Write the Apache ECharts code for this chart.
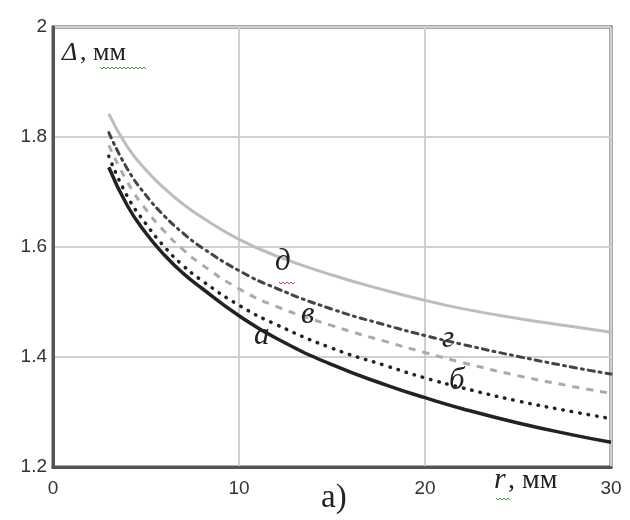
<!DOCTYPE html>
<html><head><meta charset="utf-8">
<script src="https://cdn.jsdelivr.net/npm/echarts@6/dist/echarts.min.js"></script>
<style>html,body{margin:0;padding:0;background:#fff}#c{width:630px;height:520px}</style>
</head><body><div id="c"></div>
<script>
var xs = [3, 4, 5, 6, 7, 8, 10, 12, 15, 18, 20, 22, 25, 28, 30];
var curveA = [1.745, 1.675, 1.625, 1.585, 1.552, 1.525, 1.475, 1.434, 1.386, 1.348, 1.326, 1.306, 1.280, 1.258, 1.245];
var curveB = [1.765, 1.692, 1.642, 1.600, 1.566, 1.539, 1.494, 1.459, 1.416, 1.383, 1.362, 1.344, 1.320, 1.300, 1.288];
var curveV = [1.785, 1.718, 1.668, 1.628, 1.595, 1.568, 1.524, 1.492, 1.457, 1.427, 1.408, 1.390, 1.366, 1.346, 1.334];
var curveG = [1.808, 1.742, 1.694, 1.656, 1.625, 1.599, 1.557, 1.525, 1.487, 1.457, 1.439, 1.423, 1.401, 1.381, 1.369];
var curveD = [1.842, 1.782, 1.740, 1.706, 1.678, 1.654, 1.614, 1.584, 1.549, 1.520, 1.503, 1.488, 1.470, 1.455, 1.445];
var xTicks = [0, 10, 20, 30];
var yTicks = [1.2, 1.4, 1.6, 1.8, 2];
var curveNames = ['а', 'б', 'в', 'г', 'д'];

function pairs(v){ return xs.map(function(x,i){ return [x, v[i]]; }); }
var tickFont = 'Liberation Sans';
var serif = 'Liberation Serif';

var chart = echarts.init(document.getElementById('c'), null, {renderer:'canvas'});
function squiggle(x, y, w, color){
  var pts = []; for (var i=0;i<=w;i+=2){ pts.push([x+i, y + ((i/2)%2===0?0:2)]); }
  return {type:'polyline', shape:{points:pts}, style:{stroke:color, lineWidth:1, fill:null}, z:20};
}
function txt(s, x, y, size, italic){
  return {type:'text', x:x, y:y, z:20, style:{text:s, fontSize:size, fontFamily:serif,
    fontStyle: italic ? 'italic' : 'normal', fill:'#222', textVerticalAlign:'top'}};
}
chart.setOption({
  animation:false,
  grid:{left:53, right:19, top:27, bottom:53, show:true, borderColor:'#555', borderWidth:3, backgroundColor:'#fff'},
  xAxis:{type:'value', min:0, max:30, interval:10,
    axisLine:{show:true, lineStyle:{color:'#555', width:3}},
    axisTick:{show:false},
    splitLine:{show:true, lineStyle:{color:'#cfcfcf', width:2}},
    axisLabel:{color:'#333', fontSize:19, fontFamily:tickFont, margin:12,
      formatter:function(v){ return xTicks.indexOf(v)>=0 ? String(v) : ''; }}
  },
  yAxis:{type:'value', min:1.2, max:2, interval:0.2,
    axisLine:{show:true, lineStyle:{color:'#555', width:3}},
    axisTick:{show:false},
    splitLine:{show:true, lineStyle:{color:'#cfcfcf', width:2}},
    axisLabel:{color:'#333', fontSize:19, fontFamily:tickFont, margin:6,
      formatter:function(v){ var r=Math.round(v*10)/10; return yTicks.indexOf(r)>=0 ? String(r) : ''; }}
  },
  series:[
    {name:curveNames[4], type:'line', data:pairs(curveD), smooth:true, showSymbol:false,
      lineStyle:{color:'#bdbdbd', width:3}},
    {name:curveNames[3], type:'line', data:pairs(curveG), smooth:true, showSymbol:false,
      lineStyle:{color:'#444', width:3, type:[6,5,2,5], cap:'round'}},
    {name:curveNames[2], type:'line', data:pairs(curveV), smooth:true, showSymbol:false,
      lineStyle:{color:'#aaa', width:3, type:[7,7]}},
    {name:curveNames[1], type:'line', data:pairs(curveB), smooth:true, showSymbol:false,
      lineStyle:{color:'#222', width:3.5, type:[0.5,8], cap:'round'}},
    {name:curveNames[0], type:'line', data:pairs(curveA), smooth:true, showSymbol:false,
      lineStyle:{color:'#222', width:3.5}}
  ],
  graphic:[
    txt('Δ', 62, 40, 26, true),
    txt(', мм', 80, 40, 26, false),
    squiggle(100, 67, 46, '#3a9a3a'),
    txt('r', 494, 465, 30, true),
    txt(', мм', 508, 467, 28, false),
    squiggle(496, 498, 14, '#3a9a3a'),
    txt('а)', 321, 482, 33, false),
    txt('д', 275, 246, 31, true),
    squiggle(279, 282, 16, '#d44'),
    txt('в', 301, 299, 31, true),
    txt('а', 254, 320, 31, true),
    txt('г', 442, 323, 31, true),
    txt('б', 449, 365, 31, true)
  ]
});
</script></body></html>
